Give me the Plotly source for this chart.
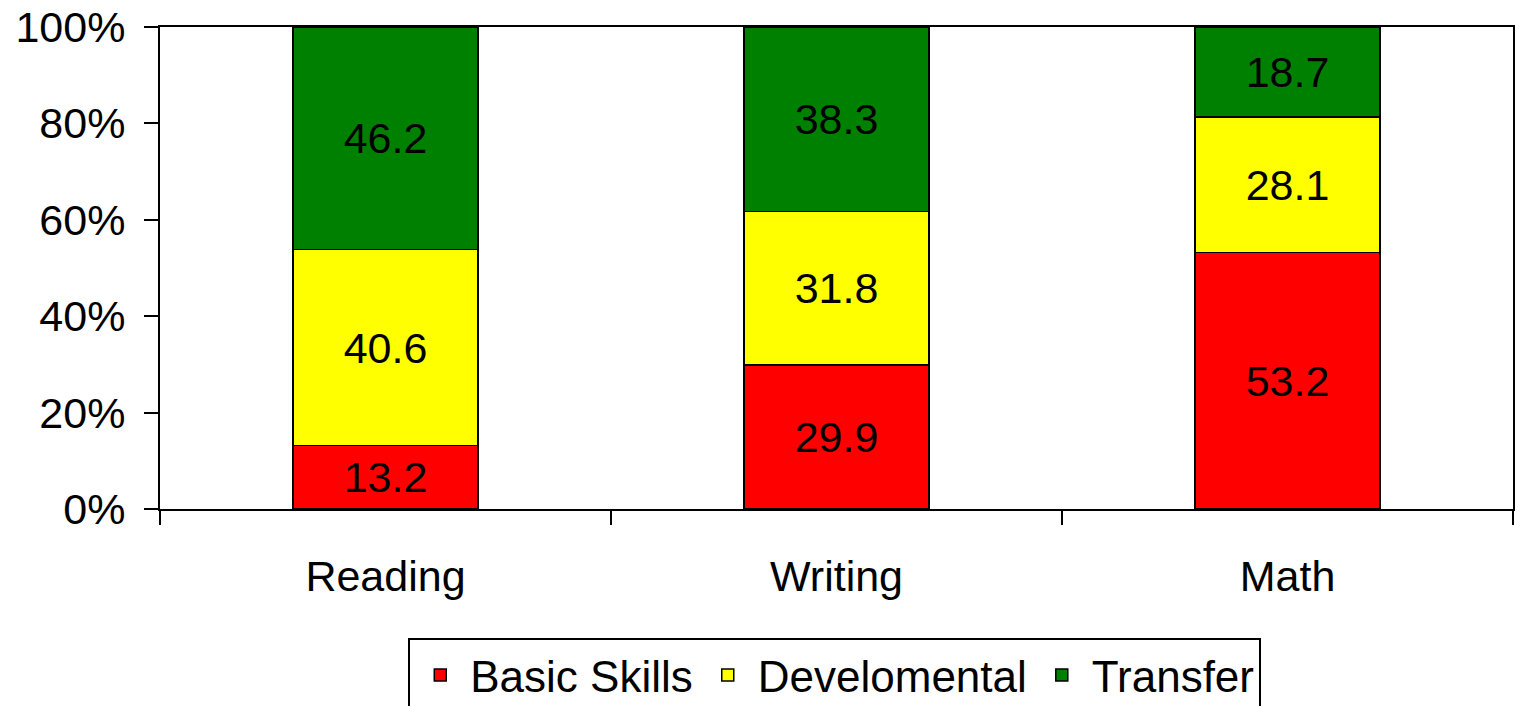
import plotly.graph_objects as go

categories = ["Reading", "Writing", "Math"]
basic_skills = [13.2, 29.9, 53.2]
developmental = [40.6, 31.8, 28.1]
transfer = [46.2, 38.3, 18.7]
series_names = ["Basic Skills", "Develomental", "Transfer"]
colors = ["#FF0000", "#FFFF00", "#008000"]
y_ticks = [0, 20, 40, 60, 80, 100]
y_tick_labels = ["0%", "20%", "40%", "60%", "80%", "100%"]

FONT = "Liberation Sans, Arial, sans-serif"
FS = 43
fig = go.Figure()
for name, vals, col in zip(series_names, [basic_skills, developmental, transfer], colors):
    fig.add_trace(go.Bar(
        x=categories, y=vals, name=name,
        marker=dict(color=col, line=dict(color="black", width=1.5)),
        text=[f"{v:.1f}" for v in vals],
        textposition="inside", insidetextanchor="middle",
        textfont=dict(color="black", size=FS, family=FONT),
        constraintext="none", width=0.41,
    ))

fig.update_layout(
    barmode="stack",
    width=1515, height=706,
    margin=dict(l=160, r=2, t=27, b=197),
    paper_bgcolor="white", plot_bgcolor="white",
    font=dict(family=FONT, size=FS, color="black"),
    showlegend=True,
    legend=dict(
        orientation="h", xref="container", x=0.551, xanchor="center",
        yref="container", y=0.0963, yanchor="top",
        bordercolor="black", borderwidth=2, font=dict(size=44),
        traceorder="normal", itemwidth=50,
    ),
    xaxis=dict(
        showline=True, linecolor="black", linewidth=2, mirror=True,
        ticks="outside", ticklen=14, tickwidth=2, tickcolor="black",
        tickson="boundaries", showgrid=False, ticklabelstandoff=28,
        tickfont=dict(size=FS), automargin=False,
    ),
    yaxis=dict(
        range=[0, 100], tickmode="array", tickvals=y_ticks, ticktext=y_tick_labels,
        showline=True, linecolor="black", linewidth=2, mirror=True,
        ticks="outside", ticklen=14, tickwidth=2, tickcolor="black",
        showgrid=False, zeroline=False, tickfont=dict(size=FS),
        ticklabelstandoff=10, automargin=False,
    ),
)
fig.write_html(
    "out.html",
    config={"displayModeBar": False},
    post_script="document.body.style.margin='0';document.body.style.overflow='hidden';",
)
